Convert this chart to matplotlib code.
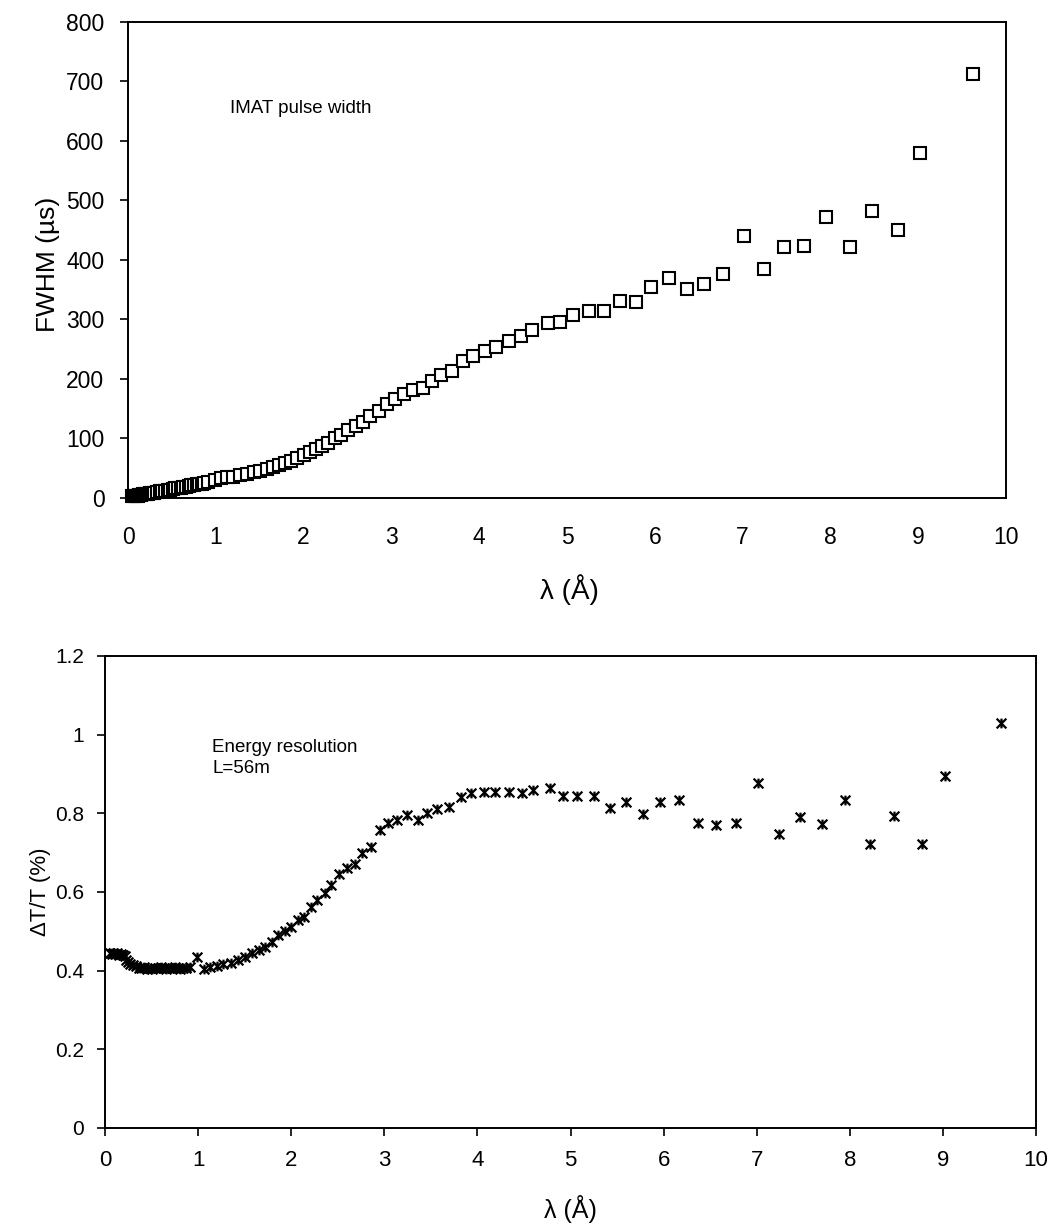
import numpy as np
import matplotlib
matplotlib.use("Agg")
import matplotlib.pyplot as plt
from matplotlib.path import Path
from matplotlib.ticker import FuncFormatter

plt.rcParams['font.family'] = ['Liberation Sans', 'DejaVu Sans']

# wavelength bins (Angstrom), shared by both panels
lam = [0.05, 0.07, 0.09, 0.11, 0.13, 0.15, 0.17, 0.19, 0.21, 0.23, 0.25, 0.27,
       0.30, 0.33, 0.36, 0.39, 0.42, 0.45, 0.48, 0.51, 0.54, 0.57, 0.60, 0.63,
       0.66, 0.69, 0.72, 0.75, 0.78, 0.81, 0.84, 0.87,
       0.91, 0.99, 1.06, 1.13, 1.20, 1.27, 1.35, 1.43, 1.50, 1.58, 1.65, 1.72,
       1.79, 1.86, 1.93, 2.00, 2.07, 2.14, 2.21, 2.28, 2.36, 2.43, 2.51, 2.60,
       2.68, 2.76, 2.86, 2.95, 3.04, 3.14, 3.24, 3.36, 3.46, 3.57, 3.69, 3.82,
       3.93, 4.07, 4.19, 4.34, 4.48, 4.60, 4.78, 4.92, 5.07, 5.25, 5.42, 5.60,
       5.78, 5.96, 6.16, 6.37, 6.56, 6.78, 7.01, 7.24, 7.47, 7.70, 7.95, 8.22,
       8.47, 8.77, 9.02, 9.62]

# pulse width FWHM (us)
fwhm = [4, 3, 4, 4, 5, 5, 6, 6, 7, 7, 8, 8,
        9, 10, 11, 11, 12, 13, 14, 15, 16, 16, 17, 18,
        19, 20, 21, 22, 23, 23, 24, 25,
        26, 31, 33, 35, 36, 38, 40, 43, 46, 49, 52, 55,
        58, 62, 67, 72, 77, 82, 87, 93, 100, 106, 115, 121,
        127, 137, 146, 158, 167, 175, 182, 185, 196, 206, 213, 230,
        239, 247, 254, 263, 272, 282, 294, 296, 308, 315, 315, 331,
        329, 354, 369, 352, 360, 376, 440, 385, 421, 424, 473, 421,
        482, 451, 580, 712]

# energy resolution dT/T (%)
dtt = [0.445, 0.443, 0.445, 0.442, 0.444, 0.441, 0.443, 0.440, 0.437, 0.428, 0.422, 0.418,
       0.415, 0.412, 0.408, 0.406, 0.409, 0.405, 0.407, 0.405, 0.408, 0.406, 0.409, 0.407,
       0.405, 0.408, 0.406, 0.409, 0.407, 0.405, 0.408, 0.406,
       0.410, 0.435, 0.405, 0.410, 0.412, 0.416, 0.420, 0.427, 0.435, 0.444, 0.452, 0.461,
       0.472, 0.490, 0.500, 0.512, 0.530, 0.536, 0.563, 0.579, 0.598, 0.618, 0.646, 0.660,
       0.670, 0.700, 0.715, 0.757, 0.775, 0.782, 0.795, 0.782, 0.800, 0.812, 0.815, 0.842,
       0.852, 0.855, 0.855, 0.855, 0.852, 0.860, 0.865, 0.845, 0.845, 0.845, 0.813, 0.830,
       0.797, 0.830, 0.835, 0.776, 0.770, 0.776, 0.878, 0.748, 0.790, 0.774, 0.833, 0.721,
       0.794, 0.723, 0.896, 1.029]

# Excel-like star marker: X with a vertical bar
star = Path([(-1, -1), (1, 1), (-1, 1), (1, -1), (0, -1), (0, 1)],
            [Path.MOVETO, Path.LINETO, Path.MOVETO, Path.LINETO, Path.MOVETO, Path.LINETO])

fig = plt.figure(figsize=(10.53, 12.25), dpi=100)

# ---- top panel: pulse width
ax1 = fig.add_axes([0.1216, 0.5935, 0.8338, 0.3886])
ax1.plot(lam, fwhm, linestyle='none', marker='s', markersize=8,
         markerfacecolor='white', markeredgecolor='black', markeredgewidth=1.5,
         clip_on=False, zorder=3)
ax1.set_xlim(0, 10)
ax1.set_ylim(0, 800)
ax1.set_xticks(range(0, 11))
ax1.set_yticks(range(0, 801, 100))
ax1.tick_params(axis='x', length=0, pad=20, labelsize=16.5)
ax1.tick_params(axis='y', direction='out', length=6, width=1.2, pad=11, labelsize=16.5)
for s in ax1.spines.values():
    s.set_linewidth(1.4)
ax1.set_xlabel('λ (Å)', fontsize=20)
ax1.set_ylabel('FWHM (µs)', fontsize=19)
ax1.xaxis.set_label_coords(0.503, -0.160)
ax1.yaxis.set_label_coords(-0.077, 0.49)
ax1.text(1.16, 655, 'IMAT pulse width', fontsize=13.5, va='center')

# ---- bottom panel: energy resolution
ax2 = fig.add_axes([0.0997, 0.0792, 0.8842, 0.3853])
ax2.plot(lam, dtt, linestyle='none', marker=star, markersize=7,
         markerfacecolor='none', markeredgecolor='black', markeredgewidth=1.6,
         zorder=3)
ax2.set_xlim(0, 10)
ax2.set_ylim(0, 1.2)
ax2.set_xticks(range(0, 11))
ax2.set_yticks(np.arange(0, 1.21, 0.2))
ax2.yaxis.set_major_formatter(FuncFormatter(lambda v, p: f"{v:g}"))
ax2.tick_params(axis='x', direction='out', length=6, width=1.2, pad=10, labelsize=16)
ax2.tick_params(axis='y', direction='out', length=6, width=1.2, pad=9, labelsize=15)
for s in ax2.spines.values():
    s.set_linewidth(1.4)
ax2.set_xlabel('λ (Å)', fontsize=18)
ax2.set_ylabel('ΔT/T (%)', fontsize=16)
ax2.xaxis.set_label_coords(0.4995, -0.142)
ax2.yaxis.set_label_coords(-0.058, 0.5)
ax2.text(1.15, 0.94, 'Energy resolution\nL=56m', fontsize=13.5, va='center',
         linespacing=1.3)

fig.savefig('out.png', dpi=100)
